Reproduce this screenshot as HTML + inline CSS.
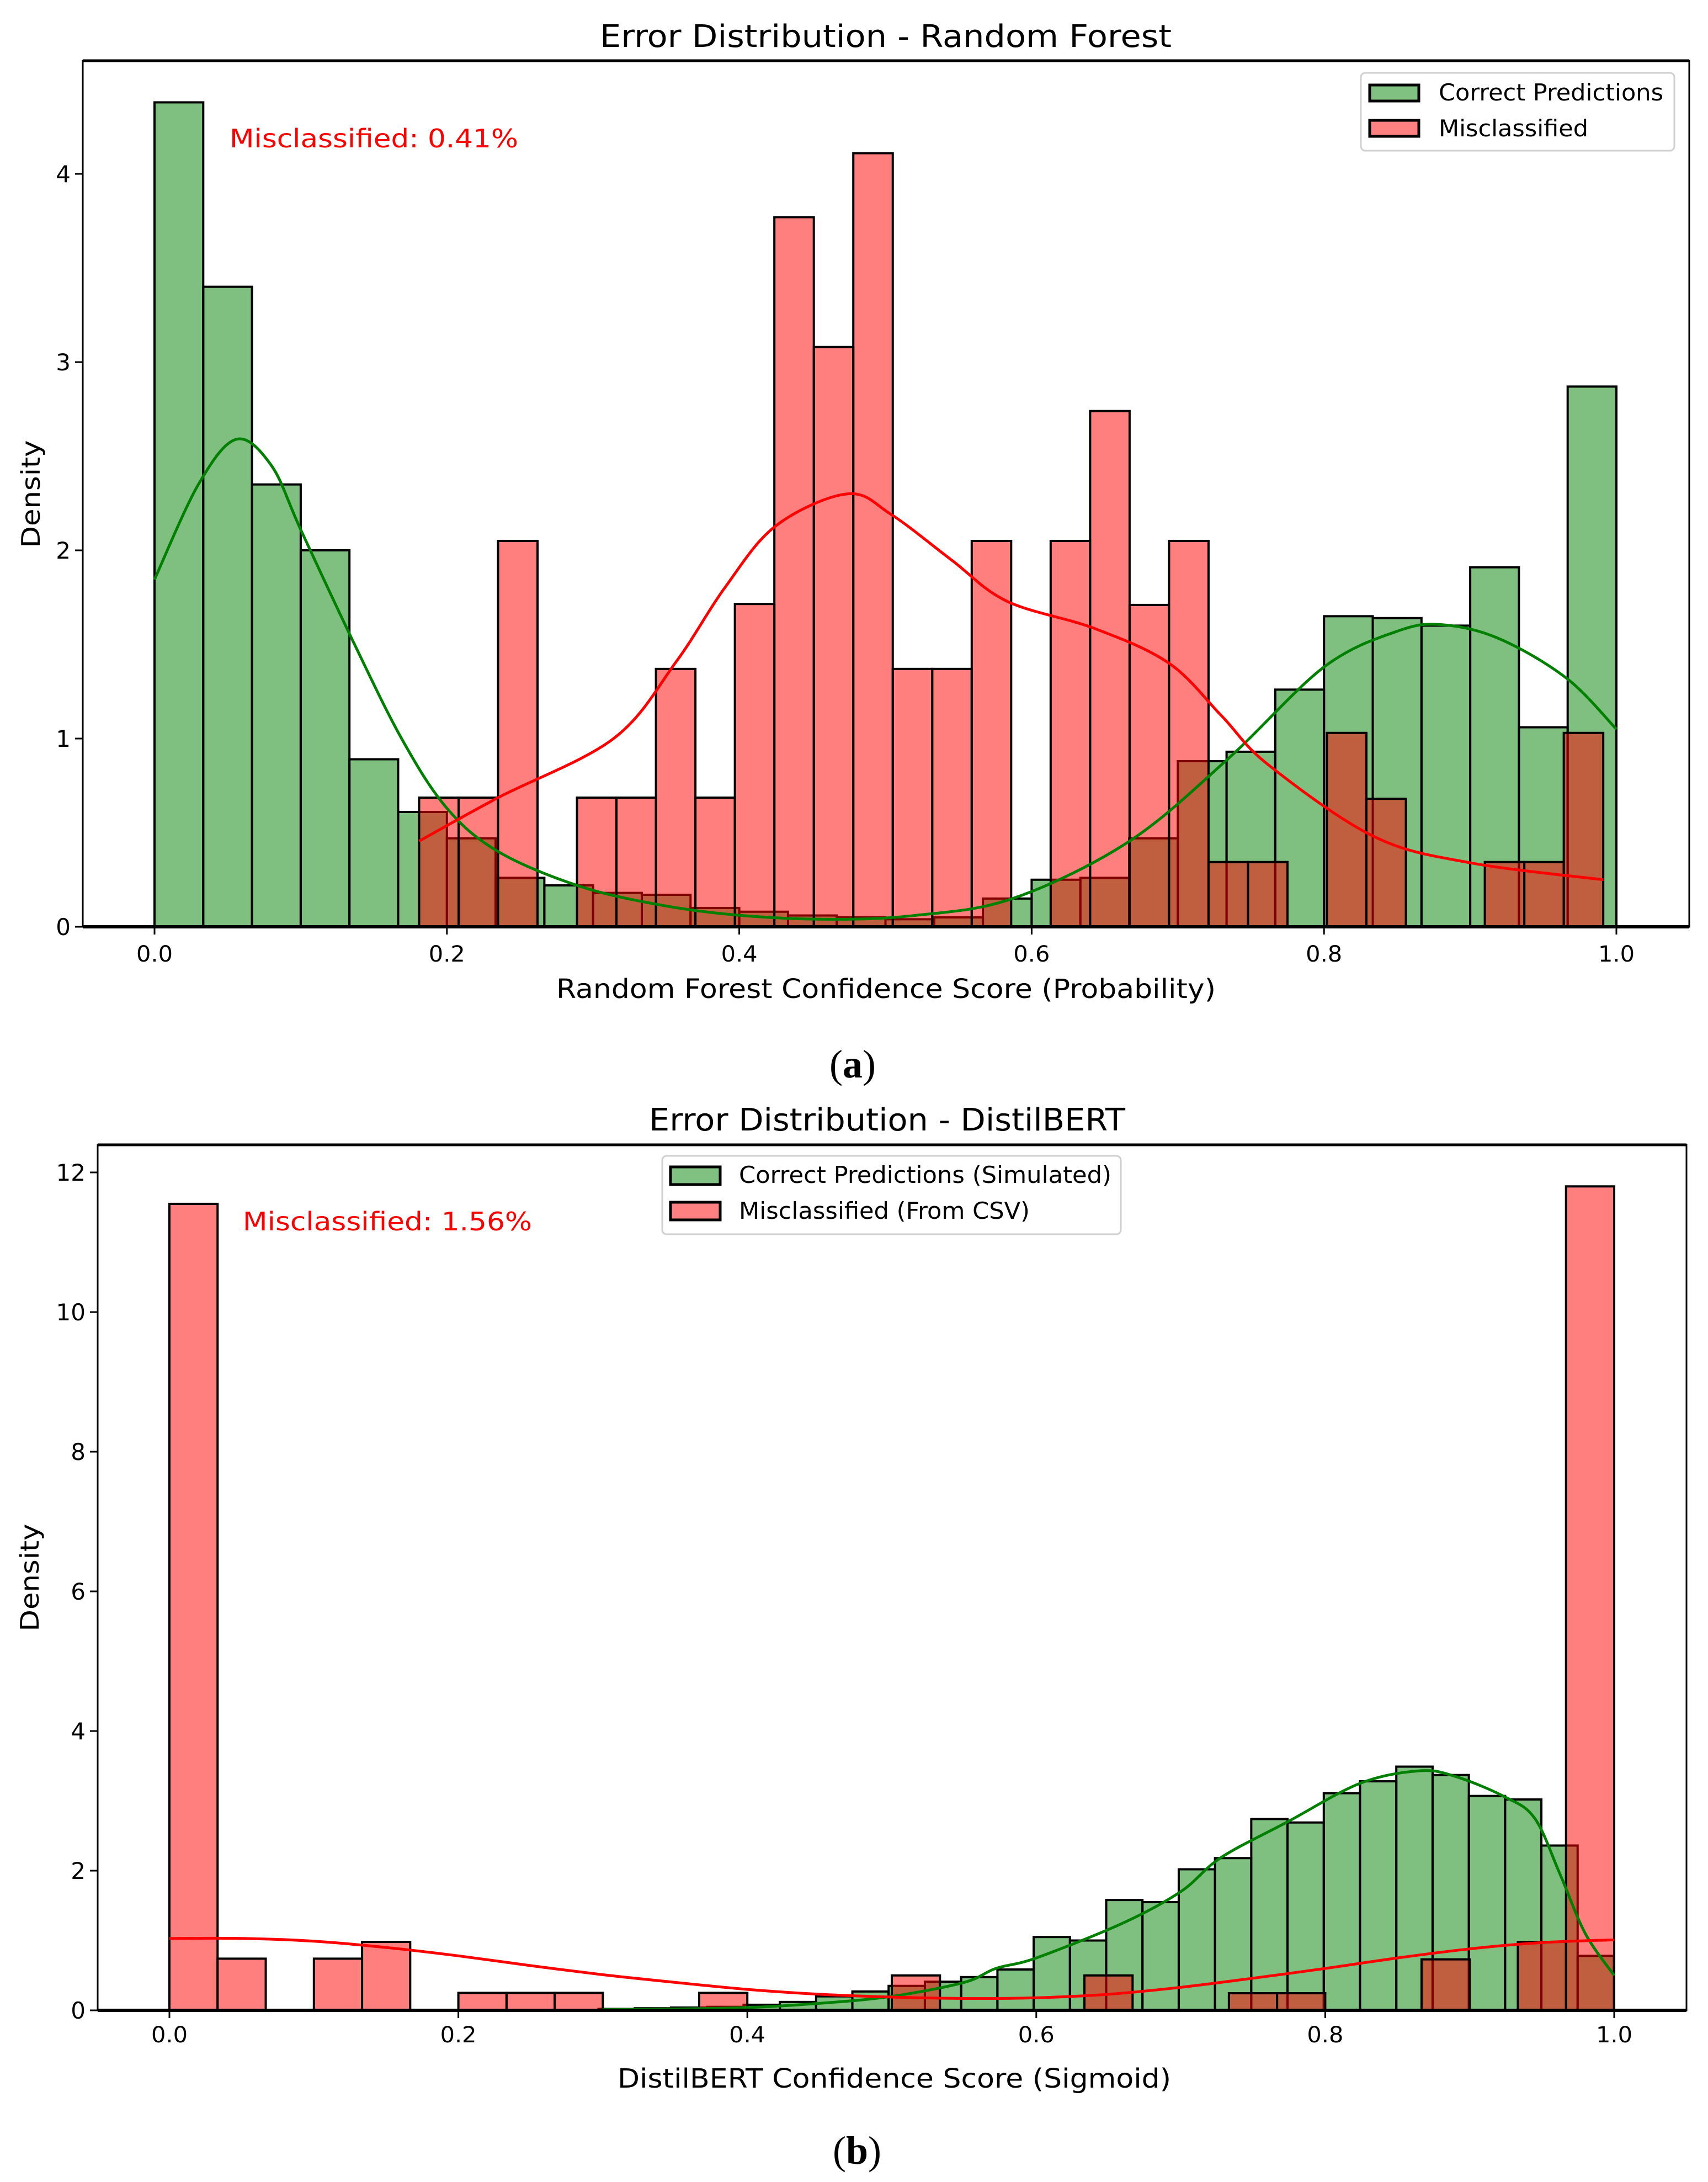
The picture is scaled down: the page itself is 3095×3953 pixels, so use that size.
<!DOCTYPE html>
<html><head><meta charset="utf-8">
<style>
html,body{margin:0;padding:0;background:#fff;}
svg{display:block;}
text{font-family:"DejaVu Sans","Liberation Sans",sans-serif;}
</style></head>
<body>
<svg id="fig" width="3095" height="3953" viewBox="0 0 3095 3953" xmlns="http://www.w3.org/2000/svg">
<rect x="0" y="0" width="3095" height="3953" fill="#fff"/>
<g id="pa"></g>
<g id="pb"></g>
</svg>
<script>
// ---------- Panel (a) data ----------
const rfGreenStart = 0.0;
const rfGreenWidth = 1/30;
const rfGreenValues = [4.38,3.40,2.35,2.00,0.89,0.61,0.47,0.26,0.22,0.18,0.17,0.10,0.08,0.06,0.05,0.04,0.05,0.15,0.25,0.26,0.47,0.88,0.93,1.26,1.65,1.64,1.60,1.91,1.06,2.87];
const rfRedStart = 0.181;
const rfRedWidth = 0.027;
const rfRedValues = [0.686,0.686,2.05,0,0.686,0.686,1.37,0.686,1.715,3.77,3.08,4.11,1.37,1.37,2.05,0,2.05,2.74,1.71,2.05,0.344,0.344,0,1.03,0.68,0,0,0.344,0.344,1.03];
const rfGreenKdeX = [0,0.03,0.056,0.08,0.1,0.135,0.169,0.2,0.235,0.289,0.343,0.397,0.46,0.52,0.587,0.666,0.734,0.8,0.85,0.881,0.92,0.966,1.0];
const rfGreenKdeY = [1.845,2.35,2.59,2.45,2.11,1.53,1.0,0.63,0.40,0.22,0.12,0.063,0.04,0.06,0.15,0.45,0.89,1.38,1.57,1.605,1.53,1.32,1.05];
const rfRedKdeX = [0.181,0.235,0.314,0.357,0.39,0.425,0.474,0.504,0.545,0.583,0.643,0.694,0.73,0.762,0.834,0.9,0.991];
const rfRedKdeY = [0.455,0.686,1.0,1.41,1.8,2.13,2.30,2.19,1.95,1.73,1.585,1.40,1.12,0.86,0.48,0.34,0.25];
const rfXTicks = [0,0.2,0.4,0.6,0.8,1.0];
const rfXTickLabels = ["0.0","0.2","0.4","0.6","0.8","1.0"];
const rfYTicks = [0,1,2,3,4];
const rfYTickLabels = ["0","1","2","3","4"];

// ---------- Panel (b) data ----------
const dbGreenStart = 0.297;
const dbGreenWidth = 0.0251;
const dbGreenValues = [0.02,0.03,0.04,0.05,0.08,0.12,0.2,0.27,0.35,0.41,0.476,0.585,1.05,1.0,1.58,1.55,2.02,2.18,2.74,2.69,3.11,3.28,3.49,3.37,3.07,3.02,2.36,0.78];
const dbRedStart = 0.0;
const dbRedWidth = 1/30;
const dbRedValues = [11.55,0.74,0,0.74,0.98,0,0.25,0.25,0.25,0,0,0.25,0,0,0,0.5,0,0,0,0.5,0,0,0.245,0.245,0,0,0.73,0,0.98,11.8];
const dbGreenKdeX = [0.3,0.35,0.4,0.45,0.5,0.55,0.572,0.6,0.66,0.7,0.728,0.774,0.824,0.865,0.89,0.924,0.945,0.9625,0.98,1.0];
const dbGreenKdeY = [0.01,0.02,0.04,0.1,0.2,0.4,0.6,0.75,1.25,1.7,2.19,2.7,3.25,3.43,3.35,3.06,2.75,1.95,1.1,0.5];
const dbRedKdeX = [0,0.05,0.1,0.15,0.2,0.25,0.3,0.35,0.4,0.45,0.5,0.55,0.6,0.65,0.7,0.75,0.8,0.85,0.9,0.95,1.0];
const dbRedKdeY = [1.03,1.03,0.99,0.9,0.78,0.64,0.51,0.4,0.3,0.23,0.19,0.17,0.18,0.23,0.33,0.46,0.6,0.75,0.88,0.97,1.01];
const dbXTicks = [0,0.2,0.4,0.6,0.8,1.0];
const dbXTickLabels = ["0.0","0.2","0.4","0.6","0.8","1.0"];
const dbYTicks = [0,2,4,6,8,10,12];
const dbYTickLabels = ["0","2","4","6","8","10","12"];

const NS = "http://www.w3.org/2000/svg";
function mk(parent, tag, attrs, txt){
  const e = document.createElementNS(NS, tag);
  for (const k in attrs) e.setAttribute(k, attrs[k]);
  if (txt !== undefined) e.textContent = txt;
  parent.appendChild(e);
  return e;
}
function smoothPath(pts){
  let d = "M" + pts[0][0].toFixed(1) + "," + pts[0][1].toFixed(1);
  for (let i=0;i<pts.length-1;i++){
    const p0 = pts[Math.max(0,i-1)], p1 = pts[i], p2 = pts[i+1], p3 = pts[Math.min(pts.length-1,i+2)];
    const c1x = p1[0]+(p2[0]-p0[0])/6, c1y = p1[1]+(p2[1]-p0[1])/6;
    const c2x = p2[0]-(p3[0]-p1[0])/6, c2y = p2[1]-(p3[1]-p1[1])/6;
    d += " C"+c1x.toFixed(1)+","+c1y.toFixed(1)+" "+c2x.toFixed(1)+","+c2y.toFixed(1)+" "+p2[0].toFixed(1)+","+p2[1].toFixed(1);
  }
  return d;
}

function drawPanel(g, cfg){
  const sx = v => cfg.x0 + v*cfg.xu;
  const sy = v => cfg.y0 - v*cfg.yu;
  cfg.gVals.forEach((v,i)=>{
    if (v<=0) return;
    const a = cfg.gStart + i*cfg.gW, b = a + cfg.gW;
    const r = mk(g,"rect",{x:sx(a),y:sy(v),width:sx(b)-sx(a),height:sy(0)-sy(v),fill:"#008000","fill-opacity":"0.5",stroke:"#000","stroke-width":"4"});
    
    
  });
  cfg.rVals.forEach((v,i)=>{
    if (v<=0) return;
    const a = cfg.rStart + i*cfg.rW, b = a + cfg.rW;
    const r = mk(g,"rect",{x:sx(a),y:sy(v),width:sx(b)-sx(a),height:sy(0)-sy(v),fill:"#ff0000","fill-opacity":"0.5",stroke:"#000","stroke-width":"4"});
    
    
  });
  const gk = mk(g,"path",{d:smoothPath(cfg.gkx.map((x,i)=>[sx(x),sy(cfg.gky[i])])),fill:"none",stroke:"#008000","stroke-width":"5"});
  
  
  const rk = mk(g,"path",{d:smoothPath(cfg.rkx.map((x,i)=>[sx(x),sy(cfg.rky[i])])),fill:"none",stroke:"#ff0000","stroke-width":"5"});
  
  
  const fr = mk(g,"rect",{x:cfg.L,y:cfg.T,width:cfg.R-cfg.L,height:cfg.B-cfg.T,fill:"none",stroke:"#000","stroke-width":"3"});
  
  
  mk(g,"line",{x1:cfg.L,y1:cfg.B,x2:cfg.R,y2:cfg.B,stroke:"#000","stroke-width":"6"});
  mk(g,"line",{x1:cfg.L,y1:cfg.T,x2:cfg.R,y2:cfg.T,stroke:"#000","stroke-width":"5"});
  cfg.xt.forEach((v,i)=>{
    mk(g,"line",{x1:sx(v),y1:cfg.B,x2:sx(v),y2:cfg.B+14,stroke:"#000","stroke-width":"3"});
    const t = mk(g,"text",{x:sx(v),y:cfg.xtBase,"font-size":"40","text-anchor":"middle",textLength:"66",lengthAdjust:"spacingAndGlyphs"},cfg.xtl[i]);
    
    
  });
  cfg.yt.forEach((v,i)=>{
    mk(g,"line",{x1:cfg.L-14,y1:sy(v),x2:cfg.L,y2:sy(v),stroke:"#000","stroke-width":"3"});
    const t = mk(g,"text",{x:cfg.L-22,y:sy(v)+15,"font-size":"42","text-anchor":"end"},cfg.ytl[i]);
    
    
  });
}

const pa = document.getElementById("pa");
drawPanel(pa,{x0:280,xu:2649,y0:1679,yu:341,L:150,R:3061,T:110,B:1679,xtBase:1742,
  gVals:rfGreenValues,gStart:rfGreenStart,gW:rfGreenWidth,rVals:rfRedValues,rStart:rfRedStart,rW:rfRedWidth,
  gkx:rfGreenKdeX,gky:rfGreenKdeY,rkx:rfRedKdeX,rky:rfRedKdeY,xt:rfXTicks,xtl:rfXTickLabels,yt:rfYTicks,ytl:rfYTickLabels});
const pb = document.getElementById("pb");
drawPanel(pb,{x0:307,xu:2618,y0:3642,yu:126.5,L:177,R:3056,T:2074,B:3642,xtBase:3700,
  gVals:dbGreenValues,gStart:dbGreenStart,gW:dbGreenWidth,rVals:dbRedValues,rStart:dbRedStart,rW:dbRedWidth,
  gkx:dbGreenKdeX,gky:dbGreenKdeY,rkx:dbRedKdeX,rky:dbRedKdeY,xt:dbXTicks,xtl:dbXTickLabels,yt:dbYTicks,ytl:dbYTickLabels});
</script>
<script>
const fig = document.getElementById("fig");
function addText(attrs, txt, name){
  const t = document.createElementNS("http://www.w3.org/2000/svg","text");
  for (const k in attrs) t.setAttribute(k, attrs[k]);
  t.textContent = txt;
  
  
  fig.appendChild(t);
  return t;
}
function panelLabel(x, y, letter, name){
  const NS="http://www.w3.org/2000/svg";
  const t = document.createElementNS(NS,"text");
  t.setAttribute("x", x); t.setAttribute("y", y); t.setAttribute("font-size","72");
  t.setAttribute("text-anchor","middle");
  t.setAttribute("style","font-family:'Liberation Serif',serif");
  
  
  const s1 = document.createElementNS(NS,"tspan"); s1.textContent="(";
  const s2 = document.createElementNS(NS,"tspan"); s2.textContent=letter; s2.setAttribute("font-weight","bold");
  const s3 = document.createElementNS(NS,"tspan"); s3.textContent=")";
  t.appendChild(s1); t.appendChild(s2); t.appendChild(s3);
  fig.appendChild(t);
}
addText({x:1087,y:85,"font-size":"56",textLength:"1036",lengthAdjust:"spacingAndGlyphs"},"Error Distribution - Random Forest","chart-title-a");
addText({x:416,y:267,"font-size":"46",fill:"#ff0000",textLength:"523",lengthAdjust:"spacingAndGlyphs"},"Misclassified: 0.41%","misclassified-rate-a");
addText({x:1008,y:1808,"font-size":"48",textLength:"1195",lengthAdjust:"spacingAndGlyphs"},"Random Forest Confidence Score (Probability)","x-axis-title-a");
addText({x:0,y:0,"font-size":"46",textLength:"195",lengthAdjust:"spacingAndGlyphs","text-anchor":"middle",transform:"translate(72,895) rotate(-90)"},"Density","y-axis-title-a");
panelLabel(1545,1952,"a","panel-label-a");
addText({x:1176,y:2048,"font-size":"56",textLength:"863",lengthAdjust:"spacingAndGlyphs"},"Error Distribution - DistilBERT","chart-title-b");
addText({x:440,y:2229,"font-size":"46",fill:"#ff0000",textLength:"524",lengthAdjust:"spacingAndGlyphs"},"Misclassified: 1.56%","misclassified-rate-b");
addText({x:1119,y:3782,"font-size":"48",textLength:"1003",lengthAdjust:"spacingAndGlyphs"},"DistilBERT Confidence Score (Sigmoid)","x-axis-title-b");
addText({x:0,y:0,"font-size":"46",textLength:"195",lengthAdjust:"spacingAndGlyphs","text-anchor":"middle",transform:"translate(70,2858) rotate(-90)"},"Density","y-axis-title-b");
panelLabel(1553,3920,"b","panel-label-b");

function legend(box, items, name){
  const NS="http://www.w3.org/2000/svg";
  const g = document.createElementNS(NS,"g");
  
  
  fig.appendChild(g);
  const r = document.createElementNS(NS,"rect");
  r.setAttribute("x",box[0]); r.setAttribute("y",box[1]); r.setAttribute("width",box[2]-box[0]); r.setAttribute("height",box[3]-box[1]);
  r.setAttribute("rx","8"); r.setAttribute("fill","#fff"); r.setAttribute("fill-opacity","0.85"); r.setAttribute("stroke","#d0d0d0"); r.setAttribute("stroke-width","3");
  g.appendChild(r);
  items.forEach(it=>{
    const h = document.createElementNS(NS,"rect");
    h.setAttribute("x",it.hx); h.setAttribute("y",it.hy); h.setAttribute("width",it.hw); h.setAttribute("height",it.hh);
    h.setAttribute("fill",it.fill); h.setAttribute("stroke","#000"); h.setAttribute("stroke-width","5");
    
    
    g.appendChild(h);
    const t = document.createElementNS(NS,"text");
    t.setAttribute("x",it.tx); t.setAttribute("y",it.ty); t.setAttribute("font-size","42");
    t.setAttribute("textLength",it.tl); t.setAttribute("lengthAdjust","spacingAndGlyphs");
    t.textContent = it.label;
    
    
    g.appendChild(t);
  });
}
legend([2466,132,3034,273],[
  {hx:2482,hy:154,hw:89,hh:29,fill:"#80c080",tx:2607,ty:182,tl:407,label:"Correct Predictions"},
  {hx:2482,hy:218,hw:89,hh:29,fill:"#ff8080",tx:2607,ty:247,tl:271,label:"Misclassified"}
],"legend-a");
legend([1200,2094,2031,2236],[
  {hx:1215,hy:2114,hw:90,hh:32,fill:"#80c080",tx:1339,ty:2143,tl:675,label:"Correct Predictions (Simulated)"},
  {hx:1215,hy:2178,hw:90,hh:32,fill:"#ff8080",tx:1339,ty:2208,tl:527,label:"Misclassified (From CSV)"}
],"legend-b");
</script>
</body></html>
